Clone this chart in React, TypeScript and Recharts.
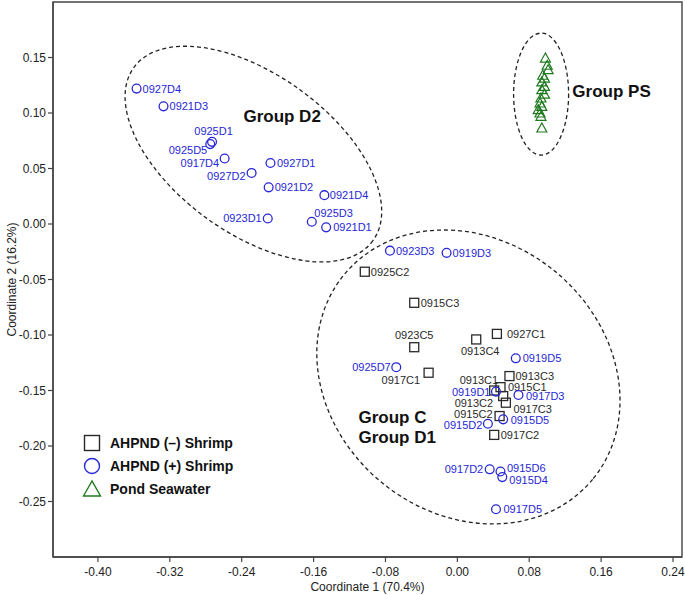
import React from 'react';
import { ScatterChart, Scatter, XAxis, YAxis, ReferenceArea, Legend } from 'recharts';

// ---------- data ----------
const X_TICKS = [-0.4, -0.32, -0.24, -0.16, -0.08, 0, 0.08, 0.16, 0.24];
const Y_TICKS = [-0.25, -0.2, -0.15, -0.1, -0.05, 0, 0.05, 0.1, 0.15];

// AHPND (-) Shrimp (squares)
const NEG_NAMES = ['0925C2', '0915C3', '0923C5', '0913C4', '0927C1', '0917C1', '0913C3', '0913C1', '0915C1', '0913C2', '0917C3', '0915C2', '0917C2'];
const NEG_X = [-0.103, -0.048, -0.048, 0.021, 0.044, -0.032, 0.058, 0.041, 0.048, 0.051, 0.054, 0.047, 0.041];
const NEG_Y = [-0.043, -0.071, -0.111, -0.104, -0.099, -0.134, -0.137, -0.15, -0.147, -0.155, -0.161, -0.173, -0.19];

// AHPND (+) Shrimp (circles)
const POS_NAMES = ['0927D4', '0921D3', '0925D1', '0925D5', '0917D4', '0927D1', '0927D2', '0921D2', '0921D4', '0923D1', '0925D3', '0921D1', '0923D3', '0919D3', '0919D5', '0925D7', '0919D1', '0917D3', '0915D5', '0915D2', '0917D2', '0915D6', '0915D4', '0917D5'];
const POS_X = [-0.357, -0.327, -0.273, -0.275, -0.259, -0.208, -0.229, -0.21, -0.148, -0.211, -0.162, -0.146, -0.075, -0.012, 0.065, -0.068, 0.043, 0.068, 0.051, 0.034, 0.036, 0.048, 0.05, 0.043];
const POS_Y = [0.122, 0.106, 0.074, 0.072, 0.059, 0.055, 0.046, 0.033, 0.026, 0.005, 0.002, -0.003, -0.024, -0.026, -0.121, -0.129, -0.151, -0.154, -0.176, -0.18, -0.221, -0.223, -0.228, -0.257];

// Pond Seawater (triangles)
const PS_X = [0.098, 0.1, 0.101, 0.095, 0.097, 0.094, 0.097, 0.094, 0.097, 0.093, 0.092, 0.094, 0.09, 0.092, 0.093, 0.094];
const PS_Y = [0.1495, 0.143, 0.139, 0.134, 0.1315, 0.128, 0.124, 0.121, 0.117, 0.1135, 0.109, 0.106, 0.103, 0.1, 0.097, 0.0865];

// group annotations
const GROUP_IDS = ['D2', 'C', 'PS'];
const GROUP_CX = [-0.227, 0.0123, 0.0932];
const GROUP_CY = [0.063, -0.1378, 0.117];

const GROUP_LABELS = ['Group D2', 'Group PS', 'Group C', 'Group D1'];
const GROUP_LABEL_X = [-0.195, 0.128, -0.11, -0.11];
const GROUP_LABEL_Y = [0.097, 0.119, -0.174, -0.1925];

const LEGEND_LABELS = ['AHPND (\u2013) Shrimp', 'AHPND (+) Shrimp', 'Pond Seawater'];

// ---------- tables built from the arrays ----------
const negData = NEG_NAMES.map((name, i) => ({ name, x: NEG_X[i], y: NEG_Y[i] }));
const posData = POS_NAMES.map((name, i) => ({ name, x: POS_X[i], y: POS_Y[i] }));
const psData = PS_X.map((x, i) => ({ x, y: PS_Y[i] }));
const ellipseData = GROUP_IDS.map((id, i) => ({ id, x: GROUP_CX[i], y: GROUP_CY[i] }));
const groupLabelData = GROUP_LABELS.map((name, i) => ({ name, x: GROUP_LABEL_X[i], y: GROUP_LABEL_Y[i] }));

// ---------- styles ----------
const FONT = '"Liberation Sans", Arial, Helvetica, sans-serif';
const BLUE = '#2727d6';
const BLACK = '#2a2a2a';
const GREEN = '#1f7a1f';
const AXIS = '#444';

const ELLIPSE_GEOM: Record<string, { rx: number; ry: number; angle: number }> = {
  D2: { rx: 147.6, ry: 79.4, angle: 35.9 },
  C: { rx: 161, ry: 136.6, angle: 39.5 },
  PS: { rx: 27.5, ry: 61, angle: 0 },
};

const GROUP_ANCHOR: Record<string, 'start' | 'middle' | 'end'> = {
  'Group D2': 'middle',
  'Group PS': 'start',
  'Group C': 'start',
  'Group D1': 'start',
};

// label placement: dx, dy (px), anchor
const LABEL_PLACE: Record<string, [number, number, 'start' | 'middle' | 'end']> = {
  '0927D4': [6, 0, 'start'],
  '0921D3': [6, 0, 'start'],
  '0925D1': [1.5, -11, 'middle'],
  '0925D5': [-3, 6, 'end'],
  '0917D4': [-5.5, 4.5, 'end'],
  '0927D1': [6.5, 0, 'start'],
  '0927D2': [-6, 3, 'end'],
  '0921D2': [6, 0, 'start'],
  '0921D4': [5.5, 0, 'start'],
  '0923D1': [-6, 0, 'end'],
  '0925D3': [2.5, -8.5, 'start'],
  '0921D1': [7, 0, 'start'],
  '0923D3': [6, 0, 'start'],
  '0919D3': [6, 0, 'start'],
  '0925C2': [6, 0, 'start'],
  '0915C3': [6.5, 0, 'start'],
  '0923C5': [0, -12.5, 'middle'],
  '0913C4': [4, 12, 'middle'],
  '0927C1': [10, 0, 'start'],
  '0919D5': [7, 0, 'start'],
  '0925D7': [-5.5, 0, 'end'],
  '0917C1': [-8.5, 7, 'end'],
  '0913C3': [6, 0, 'start'],
  '0913C1': [4, -10.5, 'end'],
  '0915C1': [7.5, -0.5, 'start'],
  '0919D1': [-5.5, 0, 'end'],
  '0917D3': [7.5, 1, 'start'],
  '0913C2': [-10, 7, 'end'],
  '0917C3': [7.5, 6, 'start'],
  '0915C2': [-7, -2, 'end'],
  '0915D5': [7.5, 1, 'start'],
  '0915D2': [-5.5, 1.5, 'end'],
  '0917C2': [6.5, 0, 'start'],
  '0917D2': [-6.5, 0, 'end'],
  '0915D6': [6.5, -3.5, 'start'],
  '0915D4': [7, 2.5, 'start'],
  '0917D5': [7.5, 0, 'start'],
};

const PointLabel = ({ cx, cy, name, color }: any) => {
  const pl = LABEL_PLACE[name] || [6, 0, 'start'];
  return (
    <text x={cx + pl[0]} y={cy + pl[1]} textAnchor={pl[2]} dominantBaseline="central" fontSize={11} fill={color} fontFamily={FONT}>
      {name}
    </text>
  );
};

const SquareShape = (p: any) => {
  const { cx, cy, payload } = p;
  return (
    <g>
      <rect x={cx - 4.5} y={cy - 4.5} width={9} height={9} fill="none" stroke={BLACK} strokeWidth={1.3} />
      <PointLabel cx={cx} cy={cy} name={payload.name} color={BLACK} />
    </g>
  );
};

const CircleShape = (p: any) => {
  const { cx, cy, payload } = p;
  return (
    <g>
      <circle cx={cx} cy={cy} r={4.4} fill="none" stroke={BLUE} strokeWidth={1.3} />
      <PointLabel cx={cx} cy={cy} name={payload.name} color={BLUE} />
    </g>
  );
};

const TriangleShape = (p: any) => {
  const { cx, cy } = p;
  return (
    <polygon
      points={`${cx},${cy - 5} ${cx - 5},${cy + 4} ${cx + 5},${cy + 4}`}
      fill="none"
      stroke={GREEN}
      strokeWidth={1.2}
    />
  );
};

const EllipseShape = (p: any) => {
  const { cx, cy, payload } = p;
  const g = ELLIPSE_GEOM[payload.id];
  return (
    <ellipse
      cx={cx}
      cy={cy}
      rx={g.rx}
      ry={g.ry}
      transform={`rotate(${g.angle} ${cx} ${cy})`}
      fill="none"
      stroke="#222"
      strokeWidth={1.3}
      strokeDasharray="4 3"
    />
  );
};

const GroupLabelShape = (p: any) => {
  const { cx, cy, payload } = p;
  return (
    <text x={cx} y={cy} textAnchor={GROUP_ANCHOR[payload.name]} dominantBaseline="central" fontSize={17} fontWeight="bold" fill="#111" fontFamily={FONT}>
      {payload.name}
    </text>
  );
};

const LegendContent = () => (
  <svg width={200} height={72} style={{ overflow: 'visible', display: 'block' }}>
    <rect x={4.5} y={4.5} width={15} height={15} fill="none" stroke={BLACK} strokeWidth={1.4} />
    <circle cx={12} cy={35} r={7.5} fill="none" stroke={BLUE} strokeWidth={1.4} />
    <polygon points="12,50 3.5,65 20.5,65" fill="none" stroke={GREEN} strokeWidth={1.4} />
    {LEGEND_LABELS.map((t, i) => (
      <text key={t} x={30} y={12 + i * 23} dominantBaseline="central" fontSize={14} fontWeight="bold" fill="#111" fontFamily={FONT}>
        {t}
      </text>
    ))}
  </svg>
);

const XTitle = (props: any) => {
  const vb = props.viewBox;
  return (
    <text x={vb.x + vb.width / 2} y={vb.y + 30} textAnchor="middle" dominantBaseline="central" fontSize={12} fill="#222" fontFamily={FONT}>
      Coordinate 1 (70.4%)
    </text>
  );
};

const YTitle = (props: any) => {
  const vb = props.viewBox;
  const x = 12;
  const y = vb.y + vb.height / 2;
  return (
    <text x={x} y={y} transform={`rotate(-90 ${x} ${y})`} textAnchor="middle" dominantBaseline="central" fontSize={12} fill="#222" fontFamily={FONT}>
      Coordinate 2 (16.2%)
    </text>
  );
};

const tickStyle = { fontSize: 12, fill: '#222', fontFamily: FONT };

export default function App() {
  return (
    <div style={{ position: 'absolute', left: 0, top: 0, width: 685, height: 595, background: '#fff' }}>
      <ScatterChart width={685} height={595} margin={{ top: 2, right: 3, bottom: 0, left: 0 }}>
        <XAxis
          type="number"
          dataKey="x"
          domain={[-0.45, 0.25]}
          ticks={X_TICKS}
          tickFormatter={(v: number) => v.toFixed(2)}
          height={38}
          tickSize={5}
          tickMargin={5}
          tick={tickStyle}
          axisLine={{ stroke: AXIS, strokeWidth: 1.4 }}
          tickLine={{ stroke: AXIS, strokeWidth: 1.2 }}
          allowDataOverflow
          label={XTitle}
        />
        <YAxis
          type="number"
          dataKey="y"
          domain={[-0.3, 0.2]}
          ticks={Y_TICKS}
          tickFormatter={(v: number) => v.toFixed(2)}
          width={53}
          tickSize={5}
          tickMargin={2}
          tick={tickStyle}
          axisLine={{ stroke: AXIS, strokeWidth: 1.4 }}
          tickLine={{ stroke: AXIS, strokeWidth: 1.2 }}
          allowDataOverflow
          label={YTitle}
        />
        <ReferenceArea x1={-0.45} x2={0.25} y1={-0.3} y2={0.2} fill="none" stroke={AXIS} strokeWidth={1.4} fillOpacity={0} />
        <Scatter data={ellipseData} shape={EllipseShape} isAnimationActive={false} legendType="none" />
        <Scatter data={psData} shape={TriangleShape} isAnimationActive={false} />
        <Scatter data={negData} shape={SquareShape} isAnimationActive={false} />
        <Scatter data={posData} shape={CircleShape} isAnimationActive={false} />
        <Scatter data={groupLabelData} shape={GroupLabelShape} isAnimationActive={false} legendType="none" />
        <Legend
          layout="horizontal"
          verticalAlign="middle"
          align="center"
          content={LegendContent}
          wrapperStyle={{ position: 'absolute', left: 80, top: 431, width: 200, height: 72 }}
        />
      </ScatterChart>
    </div>
  );
}
